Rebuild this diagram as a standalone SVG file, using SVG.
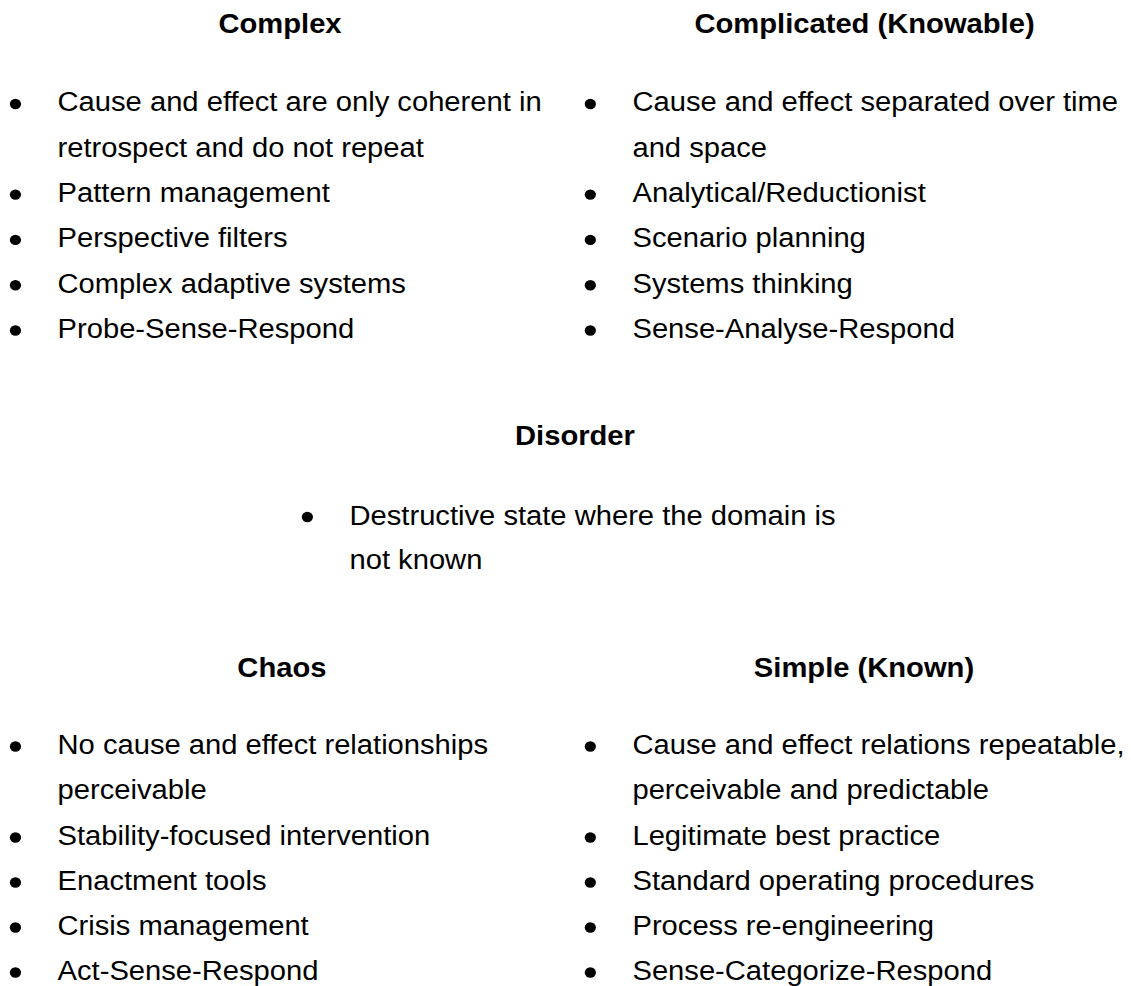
<svg xmlns="http://www.w3.org/2000/svg" width="1131" height="986" viewBox="0 0 1131 986">
  <style>
    text { font-family: "Liberation Sans", Arial, sans-serif; font-size: 27px; fill: #000; }
    .title { font-weight: bold; text-anchor: middle; }
    .dot { fill: #000; }
  </style>
  <defs>
    <circle id="bullet" r="5.2" class="dot"/>
  </defs>
  <rect width="1131" height="986" fill="#fff"/>

  <!-- whole sheet is set in slightly widened type -->
  <g transform="scale(1.08 1)">

    <!-- Complex domain -->
    <g id="complex">
      <text class="title" x="259.3" y="33">Complex</text>
      <use href="#bullet" x="14.3" y="104"/>
      <text x="53.3" y="111.5">Cause and effect are only coherent in</text>
      <text x="53.3" y="156.8">retrospect and do not repeat</text>
      <use href="#bullet" x="14.3" y="194.6"/>
      <text x="53.3" y="202.1">Pattern management</text>
      <use href="#bullet" x="14.3" y="239.9"/>
      <text x="53.3" y="247.4">Perspective filters</text>
      <use href="#bullet" x="14.3" y="285.2"/>
      <text x="53.3" y="292.7">Complex adaptive systems</text>
      <use href="#bullet" x="14.3" y="330.5"/>
      <text x="53.3" y="338">Probe-Sense-Respond</text>
    </g>

    <!-- Complicated domain -->
    <g id="complicated">
      <text class="title" x="800.5" y="33">Complicated (Knowable)</text>
      <use href="#bullet" x="546.6" y="104"/>
      <text x="585.6" y="111.5">Cause and effect separated over time</text>
      <text x="585.6" y="156.8">and space</text>
      <use href="#bullet" x="546.6" y="194.6"/>
      <text x="585.6" y="202.1">Analytical/Reductionist</text>
      <use href="#bullet" x="546.6" y="239.9"/>
      <text x="585.6" y="247.4">Scenario planning</text>
      <use href="#bullet" x="546.6" y="285.2"/>
      <text x="585.6" y="292.7">Systems thinking</text>
      <use href="#bullet" x="546.6" y="330.5"/>
      <text x="585.6" y="338">Sense-Analyse-Respond</text>
    </g>

    <!-- Disorder -->
    <g id="disorder">
      <text class="title" x="532.4" y="445">Disorder</text>
      <use href="#bullet" x="284.6" y="517"/>
      <text x="323.6" y="525">Destructive state where the domain is</text>
      <text x="323.6" y="569">not known</text>
    </g>

    <!-- Chaos domain -->
    <g id="chaos">
      <text class="title" x="261" y="677">Chaos</text>
      <use href="#bullet" x="14.3" y="746.5"/>
      <text x="53.3" y="754">No cause and effect relationships</text>
      <text x="53.3" y="799">perceivable</text>
      <use href="#bullet" x="14.3" y="837.5"/>
      <text x="53.3" y="845">Stability-focused intervention</text>
      <use href="#bullet" x="14.3" y="882.5"/>
      <text x="53.3" y="890">Enactment tools</text>
      <use href="#bullet" x="14.3" y="927.5"/>
      <text x="53.3" y="935">Crisis management</text>
      <use href="#bullet" x="14.3" y="972.5"/>
      <text x="53.3" y="980">Act-Sense-Respond</text>
    </g>

    <!-- Simple domain -->
    <g id="simple">
      <text class="title" x="800" y="677">Simple (Known)</text>
      <use href="#bullet" x="546.6" y="746.5"/>
      <text x="585.6" y="754">Cause and effect relations repeatable,</text>
      <text x="585.6" y="799">perceivable and predictable</text>
      <use href="#bullet" x="546.6" y="837.5"/>
      <text x="585.6" y="845">Legitimate best practice</text>
      <use href="#bullet" x="546.6" y="882.5"/>
      <text x="585.6" y="890">Standard operating procedures</text>
      <use href="#bullet" x="546.6" y="927.5"/>
      <text x="585.6" y="935">Process re-engineering</text>
      <use href="#bullet" x="546.6" y="972.5"/>
      <text x="585.6" y="980">Sense-Categorize-Respond</text>
    </g>
  </g>

  <!-- no connectors in this figure -->
  <g id="connectors"/>
</svg>
